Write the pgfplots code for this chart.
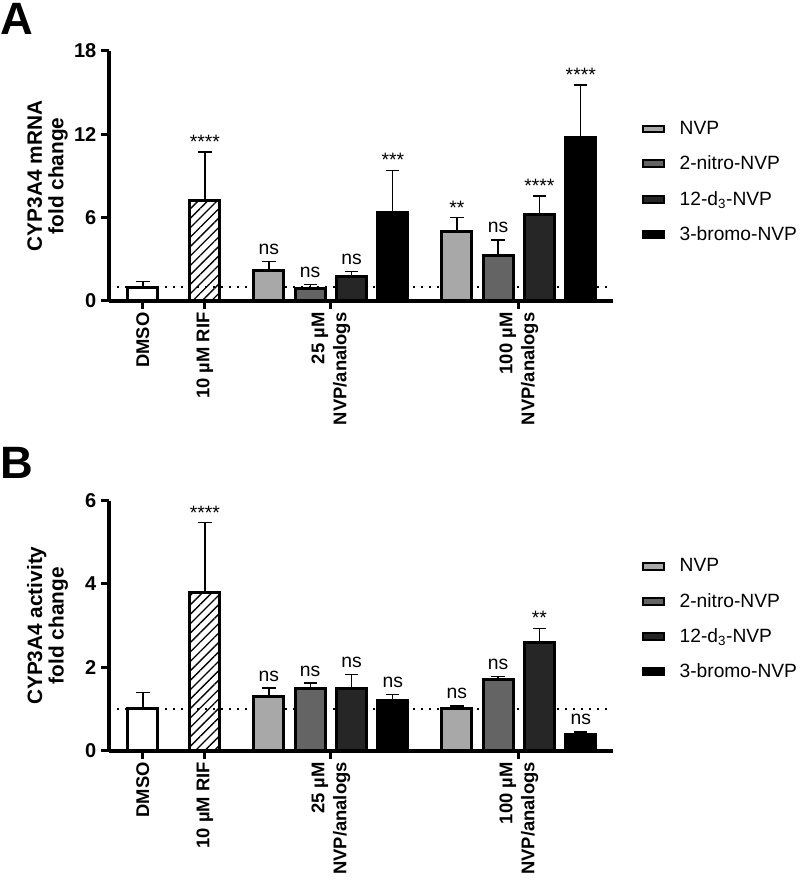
\documentclass[border=0pt]{standalone}
\usepackage{fontspec}
\setmainfont{Liberation Sans}
\usepackage{pgfplots}
\pgfplotsset{compat=1.18}
\usetikzlibrary{patterns.meta}
\definecolor{cNVP}{RGB}{168,168,168}
\definecolor{cNitro}{RGB}{100,100,100}
\definecolor{cD}{RGB}{38,38,38}
\definecolor{cBr}{RGB}{0,0,0}

\tikzset{
 sig/.style={anchor=south, inner sep=0pt, yshift=5pt, font=\fontsize{14.5}{16}\selectfont},
 star/.style={anchor=south, inner sep=0pt, yshift=2.5pt, font=\fontsize{14.5}{16}\selectfont},
 hatch/.style={pattern={Lines[angle=45,distance=5pt,line width=1pt]}},
}
\pgfplotsset{
 panel/.style={
  scale only axis, width=378pt, height=187.5pt,
  xmin=-0.82, xmax=11.38, ymin=0,
  axis x line*=bottom, axis y line*=left,
  axis line style={line width=3pt, -},
  tick align=outside, major tick length=6pt,
  every tick/.style={line width=2.25pt, black},
  xtick={0,1.5,4.55,9.1},
  xticklabels={DMSO, 10 µM RIF, {25 µM\\NVP/analogs}, {100 µM\\NVP/analogs}},
  xticklabel style={rotate=90, anchor=east, align=right, inner sep=2.5pt, font=\bfseries\fontsize{13.8}{16.5}\selectfont},
  yticklabel style={font=\bfseries\fontsize{15}{17}\selectfont},
  /pgf/number format/assume math mode=true,
  clip=false,
  legend style={draw=none, fill=none, font=\fontsize{14.4}{16}\selectfont, anchor=north west, row sep=10.5pt, column sep=9pt, inner sep=0pt},
  legend cell align=left,
  ylabel style={align=center, font=\bfseries\fontsize{15.6}{16.2}\selectfont, at={(axis description cs:-0.122,0.5)}, anchor=center},
 },
 mybar/.style={ybar, bar width=0.73, draw=black, line width=2.25pt, forget plot,
   error bars/y dir=plus, error bars/y explicit,
   error bars/error bar style={line width=1pt,black},
   error bars/error mark options={rotate=90, mark size=5pt, line width=1pt, black}},
 legbox/.style={legend image code/.code={\draw[fill=#1, draw=black, line width=1.5pt] (0.75pt,-2.6pt) rectangle (16.5pt,2.6pt);}},
}

\begin{document}
\begin{tikzpicture}
\useasboundingbox (0,0) rectangle (600pt,660pt);
\node[anchor=north west, inner sep=0pt, font=\bfseries\fontsize{34}{36}\selectfont] at (0pt,658pt) {A};
\node[anchor=north west, inner sep=0pt, font=\bfseries\fontsize{34}{36}\selectfont] at (0pt,325pt) {B};

% ---------- Panel A ----------
\begin{axis}[panel, at={(81.75pt,434.25pt)}, anchor=south west,
  ymax=18, ytick={0,6,12,18},
  ylabel={CYP3A4 mRNA\\fold change},
  legend style={at={(axis description cs:1.057,0.73)}}]
\addplot[forget plot, line width=1.5pt, dash pattern=on 1.5pt off 4.5pt] coordinates {(-0.82,1) (11.38,1)};
\addplot[fill=white, mybar] coordinates {(0,1.0) +- (0,0.4)};
\addplot[fill=white, hatch, mybar] coordinates {(1.5,7.27) +- (0,3.46)};
\addplot[fill=cNVP, mybar] coordinates {(3.05,2.2) +- (0,0.65)};
\addplot[fill=cNitro, mybar] coordinates {(4.05,0.9) +- (0,0.3)};
\addplot[fill=cD, mybar] coordinates {(5.05,1.75) +- (0,0.35)};
\addplot[fill=cBr, mybar] coordinates {(6.05,6.4) +- (0,3.0)};
\addplot[fill=cNVP, mybar] coordinates {(7.6,5.0) +- (0,1.0)};
\addplot[fill=cNitro, mybar] coordinates {(8.6,3.25) +- (0,1.15)};
\addplot[fill=cD, mybar] coordinates {(9.6,6.2) +- (0,1.35)};
\addplot[fill=cBr, mybar] coordinates {(10.6,11.75) +- (0,3.8)};
\node[star] at (axis cs:1.5,10.73) {****};
\node[sig] at (axis cs:3.05,2.85) {ns};
\node[sig] at (axis cs:4.05,1.2) {ns};
\node[sig] at (axis cs:5.05,2.1) {ns};
\node[star] at (axis cs:6.05,9.4) {***};
\node[star] at (axis cs:7.6,6.0) {**};
\node[sig] at (axis cs:8.6,4.4) {ns};
\node[star] at (axis cs:9.6,7.55) {****};
\node[star] at (axis cs:10.6,15.55) {****};
\addlegendimage{legbox=cNVP}
\addlegendentry{NVP}
\addlegendimage{legbox=cNitro}
\addlegendentry{2-nitro-NVP}
\addlegendimage{legbox=cD}
\addlegendentry{12-d\textsubscript{3}-NVP}
\addlegendimage{legbox=cBr}
\addlegendentry{3-bromo-NVP}
\end{axis}

% ---------- Panel B ----------
\begin{axis}[panel, at={(81.75pt,97pt)}, anchor=south west,
  ymax=6, ytick={0,2,4,6},
  ylabel={CYP3A4 activity\\fold change},
  legend style={at={(axis description cs:1.057,0.78)}}]
\addplot[forget plot, line width=1.5pt, dash pattern=on 1.5pt off 4.5pt] coordinates {(-0.82,1) (11.38,1)};
\addplot[fill=white, mybar] coordinates {(0,1.0) +- (0,0.4)};
\addplot[fill=white, hatch, mybar] coordinates {(1.5,3.8) +- (0,1.67)};
\addplot[fill=cNVP, mybar] coordinates {(3.05,1.31) +- (0,0.19)};
\addplot[fill=cNitro, mybar] coordinates {(4.05,1.5) +- (0,0.12)};
\addplot[fill=cD, mybar] coordinates {(5.05,1.48) +- (0,0.35)};
\addplot[fill=cBr, mybar] coordinates {(6.05,1.2) +- (0,0.15)};
\addplot[fill=cNVP, mybar] coordinates {(7.6,1.0) +- (0,0.07)};
\addplot[fill=cNitro, mybar] coordinates {(8.6,1.7) +- (0,0.08)};
\addplot[fill=cD, mybar] coordinates {(9.6,2.6) +- (0,0.33)};
\addplot[fill=cBr, mybar] coordinates {(10.6,0.38) +- (0,0.07)};
\node[star] at (axis cs:1.5,5.47) {****};
\node[sig] at (axis cs:3.05,1.5) {ns};
\node[sig] at (axis cs:4.05,1.62) {ns};
\node[sig] at (axis cs:5.05,1.83) {ns};
\node[sig] at (axis cs:6.05,1.35) {ns};
\node[sig] at (axis cs:7.6,1.07) {ns};
\node[sig] at (axis cs:8.6,1.78) {ns};
\node[star] at (axis cs:9.6,2.93) {**};
\node[sig] at (axis cs:10.6,0.45) {ns};
\addlegendimage{legbox=cNVP}
\addlegendentry{NVP}
\addlegendimage{legbox=cNitro}
\addlegendentry{2-nitro-NVP}
\addlegendimage{legbox=cD}
\addlegendentry{12-d\textsubscript{3}-NVP}
\addlegendimage{legbox=cBr}
\addlegendentry{3-bromo-NVP}
\end{axis}
\end{tikzpicture}
\end{document}
